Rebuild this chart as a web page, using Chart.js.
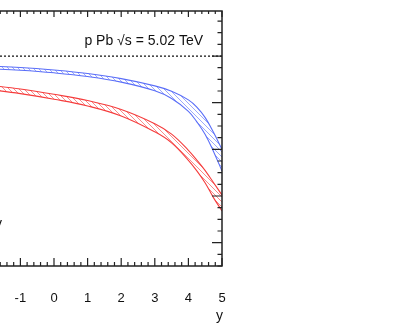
<!DOCTYPE html>
<html>
<head>
<meta charset="utf-8">
<script src="https://cdn.jsdelivr.net/npm/chart.js@4/dist/chart.umd.min.js"></script>
<style>
  html, body { margin: 0; padding: 0; background: #fff; overflow: hidden; }
  #wrap { position: relative; width: 415px; height: 329px; }
</style>
</head>
<body>
<div id="wrap"><canvas id="canvas1" width="415" height="329"></canvas></div>
<script>
/* data */
/////////////////////////////////////////////////////////////////
const rapidity = [-2, -1, 0, 1, 2, 3, 3.5, 4, 4.25, 4.5, 4.75, 5];
const blueUpper = [0.957, 0.951, 0.940, 0.925, 0.903, 0.872, 0.849, 0.812, 0.781, 0.736, 0.672, 0.600];
const blueLower = [0.946, 0.939, 0.928, 0.912, 0.888, 0.851, 0.818, 0.763, 0.718, 0.664, 0.590, 0.507];
const redUpper = [0.876, 0.859, 0.836, 0.809, 0.771, 0.710, 0.665, 0.596, 0.554, 0.509, 0.457, 0.404];
const redLower = [0.858, 0.839, 0.815, 0.786, 0.743, 0.675, 0.628, 0.553, 0.508, 0.456, 0.392, 0.336];
const xTickLabels = [-1, 0, 1, 2, 3, 4, 5];
const yRange = [0.1, 1.193];
const xRange = [-1.607, 5];
const title = 'p Pb \u221As = 5.02 TeV';

function pts(ys) {
	return rapidity.map((x, i) => ({x: x, y: ys[i]}));
}

/* hatch pattern for the bands */
////////////////////////////////////////////////////////////////
function hatch(color) {
	let c = document.createElement('canvas');
	c.width = 5; c.height = 5;
	let g = c.getContext('2d');
	g.strokeStyle = color;
	g.lineWidth = 0.8;
	g.beginPath();
	g.moveTo(-1, -1); g.lineTo(6, 6);
	g.moveTo(-1, 4); g.lineTo(1, 6);
	g.moveTo(4, -1); g.lineTo(6, 1);
	g.stroke();
	return g.createPattern(c, 'repeat');
}

const blueLine = 'rgb(90,110,248)';
const redLine = 'rgb(245,60,60)';

function band(ys, color, fill) {
	return {
		data: pts(ys),
		borderColor: color,
		borderWidth: 1.1,
		pointRadius: 0,
		tension: 0.4,
		fill: fill,
		backgroundColor: fill ? hatch(color.replace('rgb', 'rgba').replace(')', ',0.75)')) : 'transparent'
	};
}

/* frame, inward ticks, R=1 line and texts */
////////////////////////////////////////////////////////////////
const framePlugin = {
	id: 'frame',
	afterDraw(chart) {
		const ctx = chart.ctx;
		const a = chart.chartArea;
		const xs = chart.scales.x;
		const ys = chart.scales.y;
		ctx.save();
		// dotted line at 1
		ctx.strokeStyle = '#111';
		ctx.lineWidth = 1.3;
		ctx.setLineDash([2, 2]);
		ctx.beginPath();
		ctx.moveTo(a.left, ys.getPixelForValue(1));
		ctx.lineTo(a.right, ys.getPixelForValue(1));
		ctx.stroke();
		ctx.setLineDash([]);

		// frame
		ctx.strokeStyle = '#222';
		ctx.lineWidth = 1.5;
		ctx.beginPath();
		ctx.moveTo(a.left, a.top);
		ctx.lineTo(a.right, a.top);
		ctx.lineTo(a.right, a.bottom);
		ctx.lineTo(a.left, a.bottom);
		ctx.stroke();

		// x ticks top and bottom
		ctx.lineWidth = 1.2;
		ctx.beginPath();
		for (let k = Math.ceil(xRange[0] * 5); k <= xRange[1] * 5; k++) {
			let px = xs.getPixelForValue(k / 5);
			let len = (k % 5 === 0) ? 8 : 4;
			ctx.moveTo(px, a.bottom); ctx.lineTo(px, a.bottom - len);
			ctx.moveTo(px, a.top); ctx.lineTo(px, a.top + len * 0.75);
		}
		// y ticks on the right
		for (let k = Math.ceil(yRange[0] * 20); k <= yRange[1] * 20; k++) {
			let py = ys.getPixelForValue(k / 20);
			let len = (k % 4 === 0) ? 10 : 4.5;
			ctx.moveTo(a.right, py); ctx.lineTo(a.right - len, py);
		}
		ctx.stroke();

		// texts
		ctx.fillStyle = '#111';
		ctx.font = '14px "Liberation Sans", Arial, sans-serif';
		ctx.textAlign = 'right';
		ctx.textBaseline = 'alphabetic';
		ctx.fillText(title, 203, 45);
		ctx.fillText('y', 223, 320);
		ctx.fillText('y', 2, 228);
		ctx.restore();
	}
};

/////////////////* Creating the chart. *//////////////////////////
///////////////////////////////////////////////////////////////
const ctx1 = document.getElementById('canvas1').getContext('2d');
const chart1 = new Chart(ctx1, {
	type: 'line',
	data: {
		datasets: [
			band(blueUpper, blueLine, '+1'),
			band(blueLower, blueLine, false),
			band(redUpper, redLine, '+1'),
			band(redLower, redLine, false)
		]
	},
	options: {
		responsive: false,
		animation: false,
		layout: {padding: {top: 11, right: 193, left: 0, bottom: 0}},
		scales: {
			x: {
				type: 'linear',
				min: xRange[0],
				max: xRange[1],
				afterBuildTicks: (s) => {
					s.ticks = xTickLabels.map(v => ({value: v}));
				},
				afterFit: (s) => {
					s.height = 63;
					s.paddingLeft = 0;
					s.paddingRight = 0;
				},
				grid: {display: false, drawTicks: false},
				border: {display: false},
				ticks: {
					padding: 25,
					maxRotation: 0,
					autoSkip: false,
					color: '#111',
					font: {family: '"Liberation Sans", Arial, sans-serif', size: 13}
				}
			},
			y: {
				display: false,
				min: yRange[0],
				max: yRange[1]
			}
		},
		plugins: {
			legend: {display: false},
			tooltip: {enabled: false}
		}
	},
	plugins: [framePlugin]
});
</script>
</body>
</html>
